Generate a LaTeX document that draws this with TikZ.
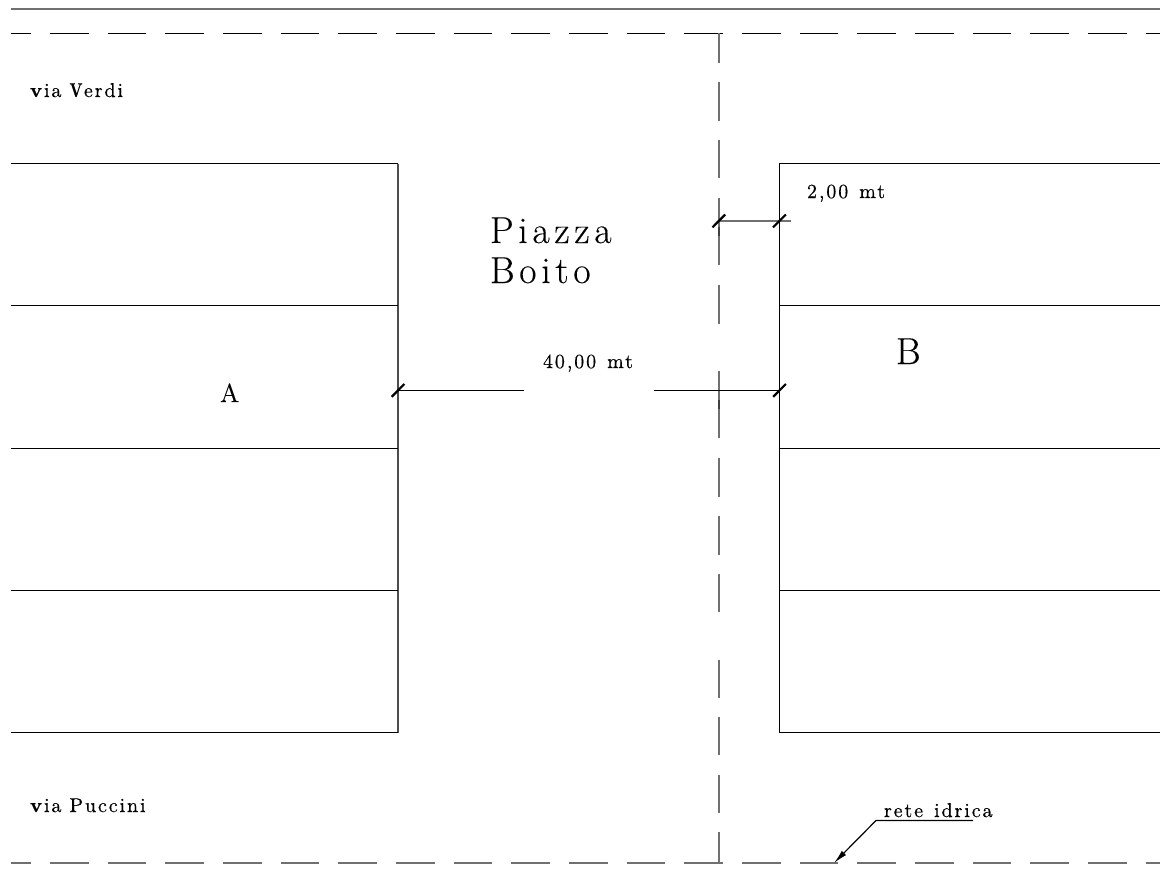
\documentclass[tikz,border=0pt]{standalone}
\usepackage{graphicx}
\usepackage{fontspec}
\setmainfont{Latin Modern Roman}
\usetikzlibrary{arrows.meta}
\newcommand{\smalltxt}[1]{\fontsize{10}{12}\selectfont\addfontfeature{LetterSpace=9.5,FakeBold=0.5}#1}
\newcommand{\bigtxt}[1]{\fontsize{18.8}{22}\selectfont\addfontfeature{LetterSpace=12.5,FakeBold=0.2}#1}
\definecolor{cadgrey}{HTML}{707070}
\tikzset{
  x=0.5pt,y=-0.5pt,
  thin line/.style={line width=0.6pt,black},
  grey line/.style={line width=1pt,cadgrey},
  road/.style={dash pattern=on 19.25pt off 9.58pt,dash phase=9.25pt},
  tick mark/.style={line width=1.1pt,black},
  label small/.style={anchor=base west,inner sep=0pt,outer sep=0pt},
  label big/.style={anchor=base west,inner sep=0pt,outer sep=0pt},
}
\begin{document}
\begin{tikzpicture}
\useasboundingbox (0,0) rectangle (1160,884);
% top line and roads
\draw[grey line] (11,9) -- (1160,9);
\draw[thin line,road] (11,33.5) -- (1160,33.5);
\draw[grey line,road] (11,863) -- (1160,863);
% axis
\foreach \a/\b in {33/63,82/120.5,140/178,198/265,285/324,371/438,458/497,516/554.5,573.5/612,659.5/698,717/755,775/813,832/863}
  \draw[grey line] (719,\a) -- (719,\b);
\draw[line width=1pt,black!75] (719,227) -- (719,236);
\draw[line width=1pt,black!75] (719,400) -- (719,409);
% block A
\draw[thin line] (11,163.5) -- (398,163.5);
\draw[line width=0.8pt,black!70] (398,163.5) -- (398,732.5);
\draw[thin line] (398,732.5) -- (11,732.5);
\foreach \y in {305.5,448.5,590.5}
  \draw[thin line] (11,\y) -- (398,\y);
% block B
\draw[thin line] (1160,163.5) -- (779.5,163.5) -- (779.5,732.5) -- (1160,732.5);
\foreach \y in {305.5,448.5,590.5}
  \draw[thin line] (779.5,\y) -- (1160,\y);
% dimensions
\coordinate (d1a) at (398,390.5);
\coordinate (d1b) at (524,390.5);
\coordinate (d1c) at (654,390.5);
\coordinate (d1d) at (779.5,390.5);
\coordinate (d2a) at (719,221);
\coordinate (d2b) at (791,221);
\draw[thin line] (d1a) -- (d1b);
\draw[thin line] (d1c) -- (d1d);
\draw[line width=0.8pt,cadgrey] (d2a) -- (d2b);
\draw[tick mark] (391.7,396.8) -- (404.3,384);
\draw[tick mark] (773.2,396.8) -- (785.8,384);
\draw[tick mark] (712.5,227.3) -- (725.2,214.5);
\draw[tick mark] (773,227.3) -- (785.8,214.5);
% leader
\coordinate (l1) at (973,820.5);
\coordinate (l2) at (876,820.5);
\coordinate (l3) at (834,863);
\draw[thin line,-{Latex[length=7pt,width=3pt]}] (l1) -- (l2) -- (l3);
% texts
\node[label small] (verdi) at (30,97) {\smalltxt{\textbf{v}ia\hspace{4pt}\scalebox{0.75}[1]{\textbf{V}}erdi}};
\node[label small] (puccini) at (30,812) {\smalltxt{\textbf{v}ia\hspace{4pt}Puccini}};
\node[label small] (d40) at (543,368) {\smalltxt{40,00\hspace{5.5pt}mt}};
\node[label small] (d2) at (807,198) {\smalltxt{2,00\hspace{5.5pt}mt}};
\node[label small] (rete) at (884,817) {\smalltxt{rete\hspace{5.5pt}idrica}};
\node[label big] (piazza) at (490,243) {\bigtxt{Piazza}};
\node[label big] (boito) at (490,283) {\bigtxt{Boito}};
\node[label big] (a) at (220,402) {\fontsize{13}{15}\selectfont\addfontfeature{FakeBold=0.3}A};
\node[label big] (b) at (896,364) {\fontsize{18.8}{22}\selectfont\addfontfeature{FakeBold=0.2}B};
\end{tikzpicture}
\end{document}
